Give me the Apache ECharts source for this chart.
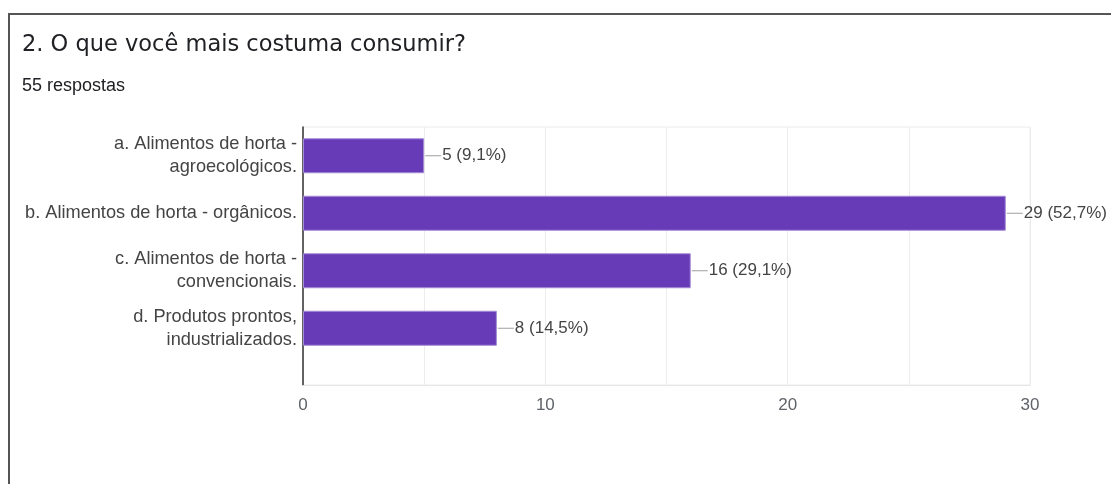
<!DOCTYPE html>
<html>
<head>
<meta charset="utf-8">
<script src="https://cdn.jsdelivr.net/npm/echarts@6/dist/echarts.min.js"></script>
<style>
  html, body { margin: 0; padding: 0; background: #fff; }
  #chart { width: 1111px; height: 484px; }
</style>
</head>
<body>
<div id="chart"></div>
<script>
// Question, answer options and counts
const questionTitle = '2. O que você mais costuma consumir?';
const responsesText = '55 respostas';
const totalResponses = 55;
const categories = [
  'a. Alimentos de horta -\nagroecológicos.',
  'b. Alimentos de horta - orgânicos.',
  'c. Alimentos de horta -\nconvencionais.',
  'd. Produtos prontos,\nindustrializados.'
];
const counts = [5, 29, 16, 8];
const axisMax = 30;
const axisStep = 5;
const labelledTicks = [0, 10, 20, 30];

function pctText(v) {
  return (v / totalResponses * 100).toFixed(1).replace('.', ',') + '%';
}

const chart = echarts.init(document.getElementById('chart'));
const plotLeft = 303, plotTop = 127, plotWidth = 727;

chart.setOption({
  backgroundColor: '#fff',
  animation: false,
  title: [
    {
      text: questionTitle,
      left: 17, top: 29,
      textStyle: { fontFamily: 'DejaVu Sans', fontSize: 22.5, fontWeight: 'normal', color: '#202124' }
    },
    {
      text: responsesText,
      left: 17, top: 72,
      textStyle: { fontFamily: 'Liberation Sans', fontSize: 18, fontWeight: 'normal', color: '#202124' }
    }
  ],
  graphic: [
    { type: 'line', shape: { x1: 8, y1: 14, x2: 1111, y2: 14 }, style: { stroke: '#555', lineWidth: 2 } },
    { type: 'line', shape: { x1: 9, y1: 14, x2: 9, y2: 484 }, style: { stroke: '#555', lineWidth: 2 } }
  ],
  grid: [
    // bars
    { left: plotLeft, top: plotTop, width: plotWidth, height: 230 },
    // frame, gridlines and value axis
    { left: plotLeft, top: plotTop, width: plotWidth, height: 258,
      show: true, borderColor: '#ececec', borderWidth: 1, backgroundColor: 'transparent' }
  ],
  xAxis: [
    { gridIndex: 0, type: 'value', min: 0, max: axisMax, show: false },
    {
      gridIndex: 1, type: 'value', min: 0, max: axisMax, interval: axisStep,
      axisLine: { show: true, lineStyle: { color: '#e6e6e6' } },
      axisTick: { show: false },
      splitLine: { show: true, lineStyle: { color: '#ececec', width: 1 } },
      axisLabel: {
        margin: 12,
        fontFamily: 'Liberation Sans', fontSize: 17, color: '#5f6368',
        formatter: v => labelledTicks.includes(v) ? String(v) : ''
      }
    }
  ],
  yAxis: [
    {
      gridIndex: 0, type: 'category', data: categories, inverse: true,
      axisLine: { show: false }, axisTick: { show: false },
      axisLabel: {
        margin: 6, fontFamily: 'Liberation Sans', fontSize: 18.2, lineHeight: 23,
        color: '#444', align: 'right'
      }
    },
    {
      gridIndex: 1, type: 'value', min: 0, max: 1,
      axisLine: { show: true, onZero: false, lineStyle: { color: '#333', width: 1.5 } },
      axisTick: { show: false }, axisLabel: { show: false }, splitLine: { show: false }
    }
  ],
  series: [
    {
      type: 'bar', xAxisIndex: 0, yAxisIndex: 0,
      data: counts,
      barWidth: 35,
      itemStyle: { color: '#673ab7', borderColor: '#a48bd6', borderWidth: 1 },
      label: {
        show: true, position: 'right', distance: 1,
        formatter: p => '{ln|}{t|' + p.value + ' (' + pctText(p.value) + ')}',
        rich: {
          ln: { width: 16, height: 1, backgroundColor: '#9e9e9e' },
          t: { fontFamily: 'Liberation Sans', fontSize: 17, color: '#444', padding: [0, 0, 0, 1] }
        }
      }
    }
  ]
});
</script>
</body>
</html>
